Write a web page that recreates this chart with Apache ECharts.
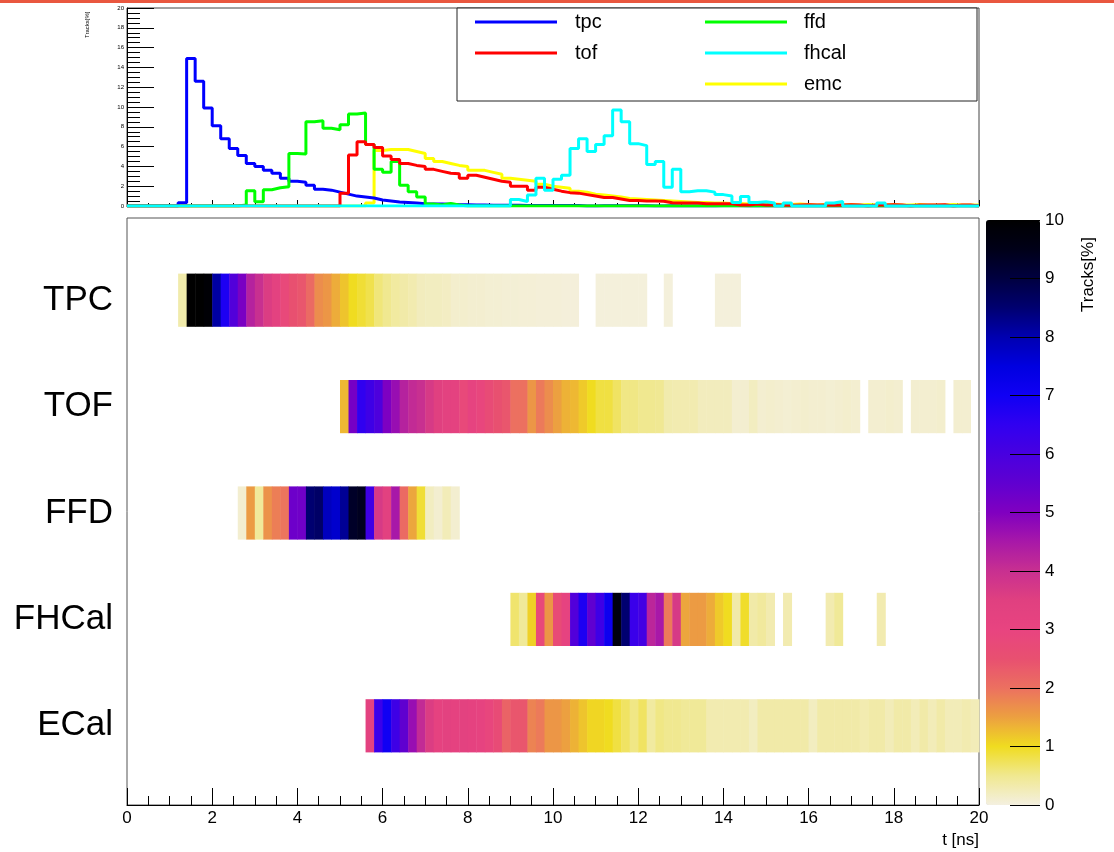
<!DOCTYPE html>
<html>
<head>
<meta charset="utf-8">
<title>Detector timing</title>
<script src="https://cdn.jsdelivr.net/npm/echarts@6/dist/echarts.min.js"></script>
<style>
html, body { margin: 0; padding: 0; background: #fff; }
#main { width: 1114px; height: 852px; }
</style>
</head>
<body>
<div id="main"></div>
<script>
// bins of 0.2 ns from 0 to 20 ns, values in Tracks[%]
var binWidth = 0.2;
var nBins = 100;
var detectors = ['TPC', 'TOF', 'FFD', 'FHCal', 'ECal'];

// each list starts at bin index xxxFirst
var tpcFirst = 6;
var tpcValues = [0.33, 14.9, 12.6, 9.9, 8.1, 6.8, 5.8, 5.1, 4.3, 4.0, 3.6, 3.3, 2.8, 2.5, 2.4, 2.1,
    1.7, 1.6, 1.4, 1.2, 1.0, 0.9, 0.8, 0.6, 0.5, 0.4, 0.35, 0.3, 0.22, 0.2, 0.2, 0.18, 0.12, 0.12,
    0.1, 0.1, 0.08, 0.08, 0.07, 0.07, 0.06, 0.06, 0.05, 0.05, 0.05, 0.04, 0.04, 0, 0,
    0.03, 0.03, 0.03, 0.03, 0.03, 0.03, 0, 0, 0.03, 0, 0, 0, 0, 0, 0.03, 0.03, 0.03];

var tofFirst = 25;
var tofValues = [1.3, 5.15, 6.5, 6.2, 5.9, 5.05, 4.7, 4.3, 4.1, 4.0,
    3.7, 3.5, 3.3, 3.25, 2.8, 3.1, 2.9, 2.7, 2.5, 2.4,
    2.0, 2.0, 1.6, 1.9, 1.7, 1.5, 1.35, 1.3, 1.15, 1.0,
    0.85, 0.85, 0.7, 0.55, 0.55, 0.5, 0.5, 0.48, 0.32, 0.3,
    0.3, 0.3, 0.22, 0.22, 0.22, 0.22, 0.1, 0.1, 0.2, 0.1,
    0.12, 0.1, 0.08, 0.1, 0.12, 0.1, 0.1, 0.08, 0.1, 0.12, 0.1,
    0, 0.1, 0.1, 0.12, 0.1, 0, 0.1, 0.1, 0.1, 0.12, 0, 0.1, 0.1];

var ffdFirst = 13;
var ffdValues = [0.1, 1.55, 0.43, 1.65, 1.85, 1.95, 5.3, 5.25, 8.5, 8.6, 7.85, 7.7, 8.2, 9.3, 9.4,
    6.2, 3.7, 3.4, 4.5, 2.1, 1.45, 0.9, 0.2, 0.1, 0.25, 0.1];

var fhcalFirst = 45;
var fhcalValues = [0.65, 0.45, 1.1, 2.8, 1.6, 2.7, 3.1, 5.8, 6.8, 5.5, 6.2, 7.1, 9.7, 8.5, 6.3, 6.1,
    4.2, 4.5, 1.9, 3.7, 1.45, 1.55, 1.55, 1.4, 1.15, 1.0, 0.35, 0.95, 0.35, 0.42, 0.3, 0, 0.3,
    0, 0, 0, 0, 0.3, 0.45, 0, 0, 0, 0, 0.3];

// emc line in the top pad
var emcFirst = 28;
var emcValues = [0.3, 5.6, 5.7, 5.7, 5.7, 5.5, 5.3, 4.8, 4.5, 4.3, 4.1, 4.0, 3.6, 3.6, 3.4, 3.2,
    2.8, 2.7, 2.6, 2.5, 2.2, 2.0, 1.9, 1.8, 1.5, 1.4, 1.2, 1.1, 1.0, 0.9, 0.75, 0.7, 0.65, 0.6,
    0.55, 0.5, 0.45, 0.4, 0.35, 0.35, 0.3, 0.3, 0.25, 0.25,
    0.2, 0.2, 0.15, 0.2, 0.15, 0.15, 0.2, 0.15, 0.1, 0.15, 0.15, 0.1, 0.15, 0.1, 0.15, 0.1,
    0.1, 0.15, 0.1, 0.1, 0.15, 0.1, 0.1, 0.1, 0.15, 0.1, 0.1, 0.1];

// ECal row of the map
var ecalFirst = 28;
var ecalValues = [3.3, 6.3, 7.0, 6.2, 5.5, 4.7, 4.1, 3.6, 3.2, 3.3, 3.2, 3.3, 3.2, 3.1, 2.9, 2.7,
    2.2, 2.4, 2.4, 1.8, 1.9, 1.6, 1.6, 1.5, 1.35, 1.2, 1.05, 1.05, 1.0, 0.85, 0.7, 0.55, 0.7,
    0.4, 0.55, 0.5, 0.5, 0.45, 0.45, 0.45, 0.3, 0.3, 0.3, 0.3, 0.3, 0.2,
    0.35, 0.35, 0.35, 0.35, 0.35, 0.35, 0.2, 0.35, 0.35, 0.35, 0.35, 0.35, 0.3, 0.35, 0.35,
    0.25, 0.35, 0.35, 0.25, 0.35, 0.25, 0.35, 0.25, 0.25, 0.3, 0.25];

var palette = ['#f4f0e0', '#f0e890', '#f0dc20', '#eca040', '#ec7060', '#e85070', '#e84480',
    '#e04080', '#c83090', '#a818a8', '#8000c0', '#6000d0', '#4800e0', '#3000f0', '#1000f4',
    '#0000e0', '#0000b0', '#000070', '#000040', '#000018', '#000000'];

var font = 'Liberation Sans, Arial, Helvetica, sans-serif';

function fullBins(first, vals) {
    var out = [];
    for (var i = 0; i < nBins; i++) {
        var j = i - first;
        out.push(j >= 0 && j < vals.length ? vals[j] : 0);
    }
    return out;
}

function histPoints(bins) {
    var pts = [];
    for (var i = 0; i < bins.length; i++) {
        pts.push([Math.round(i * binWidth * 10) / 10, bins[i]]);
    }
    pts.push([nBins * binWidth, bins[bins.length - 1]]);
    return pts;
}

var tpcBins = fullBins(tpcFirst, tpcValues);
var tofBins = fullBins(tofFirst, tofValues);
var ffdBins = fullBins(ffdFirst, ffdValues);
var fhcalBins = fullBins(fhcalFirst, fhcalValues);
var emcBins = fullBins(emcFirst, emcValues);
var ecalBins = fullBins(ecalFirst, ecalValues);

var mapRows = [tpcBins, tofBins, ffdBins, fhcalBins, ecalBins];
var cells = [];
mapRows.forEach(function (bins, r) {
    bins.forEach(function (v, i) {
        if (v > 0) cells.push([Math.round(i * binWidth * 10) / 10, r, Math.min(v, 10)]);
    });
});

function renderCell(params, api) {
    var t = api.value(0);
    var row = api.value(1);
    var p0 = api.coord([t, row]);
    var p1 = api.coord([t + binWidth, row]);
    var h = api.size([0, 1])[1] * 0.5;
    return {
        type: 'rect',
        shape: { x: p0[0], y: p0[1] - h / 2, width: p1[0] - p0[0] + 0.5, height: h },
        style: { fill: api.visual('color') }
    };
}

function lineSeries(name, bins, color) {
    return {
        name: name,
        type: 'line',
        xAxisIndex: 0,
        yAxisIndex: 0,
        step: 'end',
        symbol: 'none',
        color: color,
        lineStyle: { width: 3, color: color },
        data: histPoints(bins)
    };
}

var dom = document.getElementById('main');
var myChart = echarts.init(dom);
var option = {
    animation: false,
    backgroundColor: '#fff',
    textStyle: { fontFamily: font },
    grid: [
        { left: 127, right: 135, top: 8, height: 198, show: true, borderColor: '#444', borderWidth: 1 },
        { left: 127, right: 135, top: 218, bottom: 47, show: true, borderColor: '#555', borderWidth: 1 },
        { left: 127, right: 135, top: 247, height: 532 },
        { left: 986, width: 54, top: 220, height: 585 }
    ],
    xAxis: [
        {
            gridIndex: 0, type: 'value', min: 0, max: 20, interval: 2,
            axisLine: { lineStyle: { color: '#000' } },
            axisTick: { inside: true, length: 6, lineStyle: { color: '#000' } },
            minorTick: { show: true, splitNumber: 4, length: 3, lineStyle: { color: '#000' } },
            axisLabel: { show: false },
            splitLine: { show: false }
        },
        {
            gridIndex: 1, type: 'value', min: 0, max: 20, interval: 2,
            name: 't [ns]', nameLocation: 'end', nameGap: 0,
            nameTextStyle: { fontSize: 17, color: '#000', align: 'right', verticalAlign: 'top', padding: [27, 0, 0, 0] },
            axisLine: { lineStyle: { color: '#000' } },
            axisTick: { inside: true, length: 17, lineStyle: { color: '#000' } },
            minorTick: { show: true, splitNumber: 4, length: 9, lineStyle: { color: '#000' } },
            axisLabel: { fontSize: 17, color: '#000', margin: 5 },
            splitLine: { show: false }
        },
        { gridIndex: 2, type: 'value', min: 0, max: 20, show: false },
        { gridIndex: 3, type: 'value', min: 0, max: 1, show: false }
    ],
    yAxis: [
        {
            gridIndex: 0, type: 'value', min: 0, max: 20, interval: 2,
            axisLine: { show: true, lineStyle: { color: '#000' } },
            axisTick: { show: true, inside: true, length: 27, lineStyle: { color: '#000' } },
            minorTick: { show: true, splitNumber: 4, length: 13, lineStyle: { color: '#000' } },
            axisLabel: { fontSize: 6, color: '#000', margin: 3 },
            splitLine: { show: false }
        },
        { gridIndex: 1, type: 'value', min: 0, max: 1, show: false },
        {
            gridIndex: 2, type: 'category', data: detectors, inverse: true,
            axisLine: { show: false },
            axisTick: { show: false },
            axisLabel: { fontSize: 35, color: '#000', margin: 14 }
        },
        {
            // colour scale labels
            gridIndex: 3, type: 'value', min: 0, max: 10, interval: 1, position: 'right',
            axisLine: { show: false },
            axisTick: { show: false },
            axisLabel: { fontSize: 17, color: '#000', margin: 5 },
            splitLine: { show: false }
        },
        {
            // colour scale ticks, drawn over the bar from its right edge
            gridIndex: 3, type: 'value', min: 0, max: 10, interval: 1, position: 'left', offset: -54, z: 10,
            axisLine: { show: false },
            axisTick: { show: true, inside: false, length: 30, lineStyle: { color: '#000' } },
            axisLabel: { show: false },
            splitLine: { show: false }
        }
    ],
    legend: [
        {
            data: ['tpc', 'tof'], orient: 'vertical', left: 475, top: 12, padding: 0,
            icon: 'rect', itemWidth: 82, itemHeight: 3, itemGap: 11, selectedMode: false, z: 6,
            textStyle: { fontSize: 20, color: '#000', lineHeight: 20, padding: [0, 0, 0, 13] }
        },
        {
            data: ['ffd', 'fhcal', 'emc'], orient: 'vertical', left: 705, top: 12, padding: 0,
            icon: 'rect', itemWidth: 82, itemHeight: 3, itemGap: 11, selectedMode: false, z: 6,
            textStyle: { fontSize: 20, color: '#000', lineHeight: 20, padding: [0, 0, 0, 12] }
        }
    ],
    visualMap: {
        type: 'continuous', min: 0, max: 10, dimension: 2, seriesIndex: 5,
        calculable: false, hoverLink: false, orient: 'vertical', z: 2,
        left: 986, top: 220, itemWidth: 54, itemHeight: 585, padding: 0,
        inRange: { color: palette }
    },
    graphic: [
        { type: 'rect', left: 0, top: 0, shape: { width: 1114, height: 3 }, style: { fill: '#e9573f' } },
        { type: 'rect', z: 3, shape: { x: 457, y: 8, width: 520, height: 93 }, style: { fill: '#fff', stroke: '#222', lineWidth: 1 } },
        { type: 'text', x: 84, y: 38, rotation: Math.PI / 2, style: { text: 'Tracks[%]', fontSize: 6, fill: '#000', font: '6px ' + font, verticalAlign: 'top' } },
        { type: 'text', x: 1080, y: 312, rotation: Math.PI / 2, style: { text: 'Tracks[%]', fontSize: 17, fill: '#000', fontFamily: font, verticalAlign: 'top' } }
    ],
    series: [
        lineSeries('emc', emcBins, '#ffff00'),
        lineSeries('tpc', tpcBins, '#0000ff'),
        lineSeries('ffd', ffdBins, '#00ff00'),
        lineSeries('tof', tofBins, '#ff0000'),
        lineSeries('fhcal', fhcalBins, '#00ffff'),
        {
            name: 'map',
            type: 'custom',
            xAxisIndex: 2,
            yAxisIndex: 2,
            renderItem: renderCell,
            encode: { x: 0, y: 1 },
            data: cells
        }
    ]
};
if (option && typeof option === 'object') {
    myChart.setOption(option, true);
}
</script>
</body>
</html>
